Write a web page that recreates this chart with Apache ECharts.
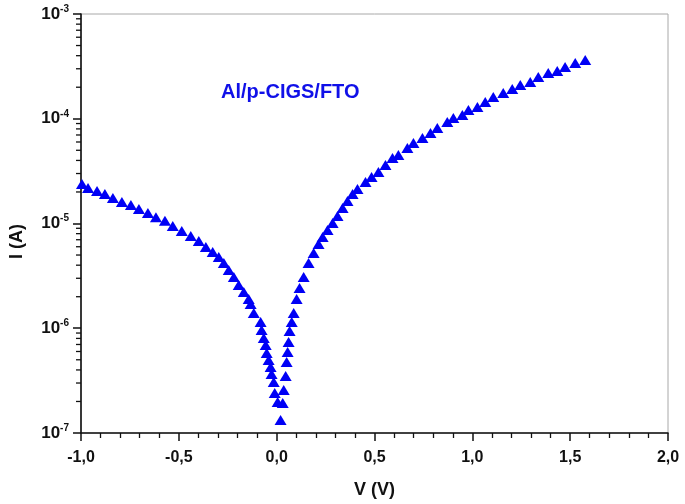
<!DOCTYPE html>
<html>
<head>
<meta charset="utf-8">
<script src="https://cdn.jsdelivr.net/npm/echarts@6/dist/echarts.min.js"></script>
<style>
html,body{margin:0;padding:0;background:#fff;}
#c{width:685px;height:504px;}
</style>
</head>
<body>
<div id="c"></div>
<script>
// Reverse-bias branch (V, I)
const leftV = [-0.995,-0.964,-0.918,-0.878,-0.837,-0.791,-0.745,-0.704,-0.658,-0.617,-0.571,-0.531,-0.485,-0.439,-0.398,-0.362,-0.327,-0.296,-0.270,-0.245,-0.219,-0.194,-0.168,-0.143,-0.133,-0.117,-0.082,-0.077,-0.066,-0.056,-0.051,-0.041,-0.031,-0.026,-0.015,-0.010,0.005,0.020];
const leftI = [2.38e-5,2.18e-5,2.04e-5,1.91e-5,1.75e-5,1.60e-5,1.50e-5,1.375e-5,1.26e-5,1.15e-5,1.06e-5,9.46e-6,8.48e-6,7.60e-6,6.81e-6,5.97e-6,5.34e-6,4.79e-6,4.20e-6,3.60e-6,3.09e-6,2.59e-6,2.22e-6,1.90e-6,1.70e-6,1.40e-6,1.15e-6,9.62e-7,8.07e-7,6.92e-7,5.80e-7,4.98e-7,4.27e-7,3.66e-7,3.07e-7,2.41e-7,1.98e-7,1.33e-7];
// Forward-bias branch (V, I)
const rightV = [0.031,0.036,0.046,0.051,0.056,0.061,0.066,0.077,0.087,0.102,0.117,0.138,0.163,0.189,0.214,0.235,0.260,0.286,0.311,0.337,0.362,0.388,0.413,0.454,0.485,0.520,0.556,0.592,0.622,0.668,0.699,0.745,0.786,0.821,0.872,0.903,0.949,0.980,1.026,1.066,1.107,1.158,1.204,1.245,1.296,1.337,1.388,1.434,1.474,1.526,1.577];
const rightI = [1.93e-7,2.57e-7,3.50e-7,4.76e-7,5.93e-7,7.39e-7,9.41e-7,1.15e-6,1.40e-6,1.90e-6,2.42e-6,3.09e-6,4.20e-6,5.23e-6,6.37e-6,7.43e-6,8.67e-6,1.011e-5,1.179e-5,1.406e-5,1.64e-5,1.912e-5,2.135e-5,2.49e-5,2.779e-5,3.101e-5,3.618e-5,4.22e-5,4.51e-5,5.26e-5,5.87e-5,6.55e-5,7.31e-5,8.16e-5,9.31e-5,1.017e-4,1.086e-4,1.212e-4,1.295e-4,1.445e-4,1.613e-4,1.761e-4,1.923e-4,2.10e-4,2.243e-4,2.504e-4,2.734e-4,2.856e-4,3.119e-4,3.406e-4,3.638e-4];
const seriesName = 'Al/p-CIGS/FTO';
const xMin = -1, xMax = 2, xStep = 0.5;
const yMin = 1e-7, yMax = 1e-3;

const pts = leftV.map((v,i)=>[v,leftI[i]]).concat(rightV.map((v,i)=>[v,rightI[i]]));

// minor tick positions of the log axis (2..9 x 10^n)
const minorY = [];
for (let e = -7; e < -3; e++) for (let m = 2; m <= 9; m++) minorY.push([xMin, m * Math.pow(10, e)]);

const FONT = '"Liberation Sans", Arial, sans-serif';
const chart = echarts.init(document.getElementById('c'), null, {renderer:'canvas'});
chart.setOption({
  animation:false,
  backgroundColor:'#fff',
  title:{text:seriesName,left:216,top:77,textStyle:{color:'#1010e8',fontFamily:FONT,fontWeight:'bold',fontSize:20}},
  grid:{left:80,top:14,right:17,bottom:71,show:true,borderColor:'#a8a8a8',borderWidth:1},
  xAxis:{
    type:'value',min:xMin,max:xMax,interval:xStep,
    name:'V (V)',nameLocation:'middle',nameGap:48,
    nameTextStyle:{fontFamily:FONT,fontWeight:'bold',fontSize:18,color:'#111'},
    axisLine:{show:true,onZero:false,lineStyle:{color:'#111',width:1.6}},
    axisTick:{show:true,length:8,lineStyle:{color:'#111',width:1.5}},
    minorTick:{show:true,splitNumber:5,length:5,lineStyle:{color:'#111',width:1.3}},
    splitLine:{show:false},
    axisLabel:{margin:17,fontFamily:FONT,fontWeight:'bold',fontSize:16,color:'#111',
      formatter:v=>v.toFixed(1).replace('.',',')}
  },
  yAxis:{
    type:'log',logBase:10,min:yMin,max:yMax,
    name:'I (A)',nameLocation:'middle',nameGap:55,
    nameTextStyle:{fontFamily:FONT,fontWeight:'bold',fontSize:18,color:'#111',padding:[0,36,0,0]},
    axisLine:{show:true,onZero:false,lineStyle:{color:'#111',width:1.6}},
    axisTick:{show:true,length:8,lineStyle:{color:'#111',width:1.5}},
    splitLine:{show:false},
    axisLabel:{margin:12,
      formatter:v=>'{b|10}{s|'+Math.round(Math.log10(v))+'}',
      rich:{
        b:{fontFamily:FONT,fontWeight:'bold',fontSize:17,color:'#111'},
        s:{fontFamily:FONT,fontWeight:'bold',fontSize:10,color:'#111',padding:[0,0,10,0]}
      }}
  },
  series:[
    {
      type:'custom',silent:true,clip:false,z:5,
      data:minorY,
      renderItem:(params,api)=>{
        const p = api.coord([api.value(0),api.value(1)]);
        return {type:'line',shape:{x1:p[0]-5,y1:p[1],x2:p[0],y2:p[1]},style:{stroke:'#111',lineWidth:1.3}};
      }
    },
    {
      name:seriesName,type:'scatter',symbol:'triangle',symbolSize:[12,10],
      itemStyle:{color:'#0000f5',opacity:1},
      data:pts
    }
  ]
});
</script>
</body>
</html>
